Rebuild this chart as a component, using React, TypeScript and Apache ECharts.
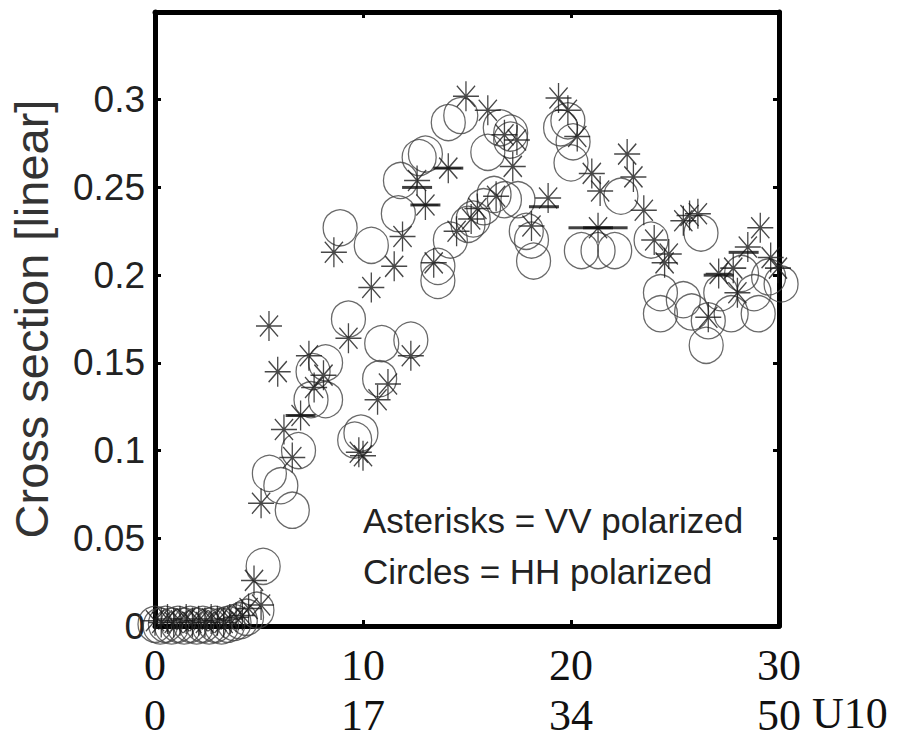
import React, { useEffect, useRef } from "react";
import * as echarts from "echarts";

// x tick values (upper row) and the second-row U10 labels
const xTicks = [0, 10, 20, 30];
const u10Labels = ["0", "17", "34", "50"];
const yTicks = [0, 0.05, 0.1, 0.15, 0.2, 0.25, 0.3];

// Asterisks = VV polarized
const vvData: [number, number][] = [
  [0, 0.003], [0.3, 0.002], [0.6, 0.004], [0.9, 0.002], [1.2, 0.003], [1.5, 0.004],
  [1.8, 0.002], [2.1, 0.003], [2.4, 0.002], [2.7, 0.004], [3.0, 0.003], [3.3, 0.002],
  [3.6, 0.004], [3.9, 0.005], [4.2, 0.006], [4.5, 0.01], [4.76, 0.026], [5.1, 0.012],
  [5.1, 0.07], [5.48, 0.171], [5.9, 0.145], [6.2, 0.112], [6.6, 0.096], [7.0, 0.12],
  [7.4, 0.154], [7.65, 0.136], [8.1, 0.143], [8.6, 0.213], [9.3, 0.164], [9.8, 0.099],
  [10.0, 0.097], [10.4, 0.193], [10.7, 0.129], [11.2, 0.138], [11.5, 0.205], [11.9, 0.222],
  [12.3, 0.154], [12.6, 0.254], [13.0, 0.24], [13.4, 0.207], [14.1, 0.261], [14.5, 0.225],
  [14.95, 0.302], [15.2, 0.232], [15.5, 0.238], [16.0, 0.294], [16.4, 0.245], [16.8, 0.28],
  [17.2, 0.262], [17.4, 0.277], [18.1, 0.228], [18.9, 0.244], [19.4, 0.301], [19.85, 0.294],
  [20.3, 0.279], [21.0, 0.258], [21.4, 0.248], [21.3, 0.227], [22.7, 0.269], [23.0, 0.256],
  [23.5, 0.237], [24.0, 0.22], [24.5, 0.207], [24.7, 0.212], [25.4, 0.231], [25.7, 0.234],
  [26.1, 0.235], [26.6, 0.176], [27.1, 0.201], [27.8, 0.204], [28.0, 0.19], [28.5, 0.216],
  [29.1, 0.227], [29.6, 0.21], [29.95, 0.204],
];

// Circles = HH polarized
const hhData: [number, number][] = [
  [0, 0.001], [0.25, 0.0], [0.5, 0.001], [0.8, 0.0], [1.1, 0.001], [1.4, 0.0],
  [1.7, 0.001], [2.0, 0.0], [2.3, 0.001], [2.6, 0.0], [2.9, 0.001], [3.2, 0.0],
  [3.5, 0.001], [3.8, 0.002], [4.1, 0.003], [4.4, 0.005], [4.9, 0.009], [5.2, 0.034],
  [5.5, 0.087], [6.05, 0.08], [6.6, 0.066], [6.9, 0.1], [7.5, 0.129], [7.6, 0.145],
  [8.2, 0.15], [8.2, 0.129], [8.9, 0.227], [9.3, 0.175], [9.6, 0.106], [9.9, 0.11],
  [10.4, 0.217], [10.8, 0.141], [10.9, 0.161], [11.7, 0.235], [11.8, 0.254], [12.3, 0.163],
  [12.7, 0.267], [13.0, 0.269], [13.6, 0.197], [13.6, 0.205], [14.1, 0.287], [14.2, 0.22],
  [14.7, 0.291], [15.05, 0.229], [15.3, 0.232], [15.8, 0.239], [16.0, 0.27], [16.3, 0.246],
  [16.6, 0.284], [16.8, 0.243], [17.1, 0.277], [17.1, 0.281], [17.45, 0.243], [17.85, 0.225],
  [18.1, 0.22], [18.2, 0.208], [19.5, 0.284], [19.85, 0.288], [20.0, 0.264], [20.1, 0.276],
  [20.5, 0.214], [21.3, 0.214], [22.1, 0.214], [22.4, 0.245], [23.85, 0.22], [24.3, 0.19],
  [24.3, 0.178], [25.4, 0.186], [25.8, 0.179], [26.25, 0.224], [26.5, 0.16], [26.6, 0.174],
  [27.2, 0.19], [27.7, 0.178], [28.2, 0.201], [28.8, 0.19], [29.0, 0.178], [29.5, 0.199],
  [30.1, 0.195],
];

// short horizontal bars visible among the markers
const dashData: [number, number][] = [
  [7.0, 0.12], [12.6, 0.25], [13.0, 0.24], [14.1, 0.261], [18.7, 0.239],
  [20.6, 0.227], [21.3, 0.227], [22.0, 0.227], [27.1, 0.2], [28.3, 0.213],
];

const asteriskPath =
  "path://M10 0 L10 20 M0 10 L20 10 M3 3 L17 17 M3 17 L17 3";

export default function App() {
  const ref = useRef<HTMLDivElement>(null);
  useEffect(() => {
    if (!ref.current) return;
    const chart = echarts.init(ref.current, null, { renderer: "svg" });
    const frame = { show: true, onZero: false, lineStyle: { color: "#000", width: 5 } };
    const tick = { show: true, inside: true, length: 6, lineStyle: { color: "#000", width: 3 } };
    chart.setOption({
      animation: false,
      backgroundColor: "#fff",
      grid: { left: 155, top: 12, width: 624, height: 614, containLabel: false },
      xAxis: [
        {
          type: "value", position: "bottom", min: 0, max: 30, interval: 10,
          splitLine: { show: false }, axisLine: frame, axisTick: tick,
          axisLabel: {
            margin: 14,
            fontFamily: "Liberation Serif", fontSize: 44, lineHeight: 50, color: "#111",
            formatter: (v: number) => {
              const i = xTicks.indexOf(v);
              return i >= 0 ? `${xTicks[i]}\n${u10Labels[i]}` : "";
            },
          },
        },
        {
          type: "value", position: "top", min: 0, max: 30, interval: 10,
          splitLine: { show: false }, axisLine: frame, axisTick: tick,
          axisLabel: { show: false },
        },
      ],
      yAxis: [
        {
          type: "value", position: "left", min: 0, max: 0.35, interval: 0.05,
          splitLine: { show: false }, axisLine: frame, axisTick: tick,
          axisLabel: {
            margin: 10, fontFamily: "Liberation Sans", fontSize: 37, color: "#222",
            formatter: (v: number) => {
              const t = yTicks.find((y) => Math.abs(y - v) < 1e-9);
              return t === undefined ? "" : String(t);
            },
          },
          name: "Cross section [linear]",
          nameLocation: "middle",
          nameGap: 100,
          nameTextStyle: { fontFamily: "Liberation Sans", fontSize: 47, color: "#333" },
        },
        {
          type: "value", position: "right", min: 0, max: 0.35, interval: 0.05,
          splitLine: { show: false }, axisLine: frame, axisTick: tick,
          axisLabel: { show: false },
        },
      ],
      series: [
        {
          name: "HH", type: "scatter", data: hhData, clip: false,
          symbol: "circle", symbolSize: [34, 36],
          itemStyle: { color: "rgba(0,0,0,0)", borderColor: "#444", borderWidth: 1.3 },
        },
        {
          name: "VV", type: "scatter", data: vvData, clip: false,
          symbol: asteriskPath, symbolSize: [26, 30],
          itemStyle: { color: "rgba(0,0,0,0)", borderColor: "#1a1a1a", borderWidth: 1.4 },
        },
        {
          name: "bars", type: "scatter", data: dashData, clip: false,
          symbol: "rect", symbolSize: [30, 3],
          itemStyle: { color: "#111" },
        },
      ],
      graphic: [
        {
          type: "text", left: 363, top: 503,
          style: { text: "Asterisks = VV polarized", fontFamily: "Liberation Sans", fontSize: 35, fill: "#222" },
        },
        {
          type: "text", left: 363, top: 554,
          style: { text: "Circles = HH polarized", fontFamily: "Liberation Sans", fontSize: 35, fill: "#222" },
        },
        {
          type: "text", left: 812, top: 691,
          style: { text: "U10", fontFamily: "Liberation Serif", fontSize: 44, fill: "#111" },
        },
      ],
    });
    return () => chart.dispose();
  }, []);
  return <div ref={ref} style={{ width: 903, height: 741, position: "absolute", left: 0, top: 0 }} />;
}
